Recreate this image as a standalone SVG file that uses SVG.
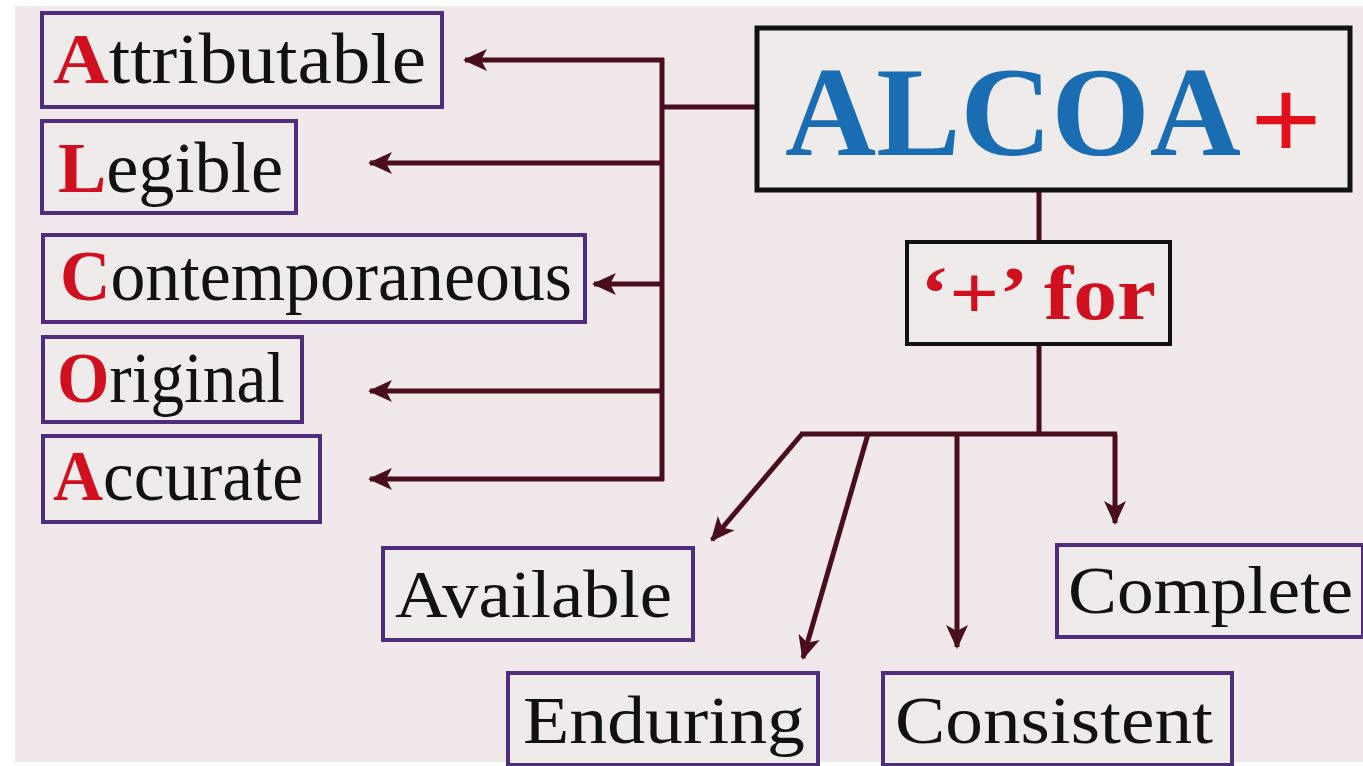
<svg xmlns="http://www.w3.org/2000/svg" width="1363" height="766" viewBox="0 0 1363 766">
<defs>
<style>
.box{fill:#efebea;stroke:#4e2d7c;stroke-width:4}
.lbl{font-family:"Liberation Serif",serif;font-size:72px;fill:#111}
.bl{font-family:"Liberation Serif",serif;font-size:68px;fill:#111}
.ini{font-weight:bold;fill:#d0101e}
.con{fill:none;stroke:#4a0d1c;stroke-width:5}
</style>
<marker id="ah" markerUnits="userSpaceOnUse" markerWidth="26" markerHeight="24" refX="22" refY="12" orient="auto">
<path d="M0,1 L24,12 L0,23 L6,12 Z" fill="#4a0d1c"/>
</marker>
</defs>
<rect x="0" y="0" width="1363" height="766" fill="#ffffff"/>
<rect x="15" y="6" width="1348" height="756" fill="#f0e8ea"/>
<g id="connectors">
<path class="con" d="M757,107 L660,107"/>
<path class="con" d="M662,58 L662,481"/>
<path class="con" d="M664,60 L465,60" marker-end="url(#ah)"/>
<path class="con" d="M664,163 L370,163" marker-end="url(#ah)"/>
<path class="con" d="M664,284 L594,284" marker-end="url(#ah)"/>
<path class="con" d="M664,391 L370,391" marker-end="url(#ah)"/>
<path class="con" d="M664,479 L370,479" marker-end="url(#ah)"/>
<path class="con" d="M1039,190 L1039,242"/>
<path class="con" d="M1039,345 L1039,434"/>
<path class="con" d="M800,434 L1117,434"/>
<path class="con" d="M802,434 L712,540" marker-end="url(#ah)"/>
<path class="con" d="M868,434 L803,658" marker-end="url(#ah)"/>
<path class="con" d="M957,434 L957,647" marker-end="url(#ah)"/>
<path class="con" d="M1115,434 L1115,523" marker-end="url(#ah)"/>
</g>
<g id="alcoa">
<rect x="757" y="28" width="593" height="162" fill="#eeebea" stroke="#111" stroke-width="5"/>
<text x="785" y="155" font-family="'Liberation Serif',serif" font-size="128" font-weight="bold" fill="#1a6db2" textLength="456" lengthAdjust="spacingAndGlyphs">ALCOA</text>
<text x="1250" y="160" font-family="'Liberation Serif',serif" font-size="118" font-weight="bold" fill="#e0101c" textLength="72" lengthAdjust="spacingAndGlyphs">+</text>
</g>
<g id="plusfor">
<rect x="907" y="242" width="263" height="102" fill="#eeebea" stroke="#111" stroke-width="4"/>
<text x="920" y="319" font-family="'Liberation Serif',serif" font-size="76" font-weight="bold" fill="#d0101e" textLength="236" lengthAdjust="spacingAndGlyphs">‘+’ for</text>
</g>
<g id="attributable">
<rect class="box" x="42" y="13" width="400" height="94"/>
<text class="lbl" x="53" y="83" textLength="373" lengthAdjust="spacingAndGlyphs"><tspan class="ini">A</tspan>ttributable</text>
</g>
<g id="legible">
<rect class="box" x="42" y="121" width="254" height="92"/>
<text class="lbl" x="58" y="192" textLength="225" lengthAdjust="spacingAndGlyphs"><tspan class="ini">L</tspan>egible</text>
</g>
<g id="contemporaneous">
<rect class="box" x="43" y="235" width="542" height="87"/>
<text class="lbl" x="60" y="300" textLength="512" lengthAdjust="spacingAndGlyphs"><tspan class="ini">C</tspan>ontemporaneous</text>
</g>
<g id="original">
<rect class="box" x="43" y="337" width="259" height="85"/>
<text class="lbl" x="57" y="402" textLength="228" lengthAdjust="spacingAndGlyphs"><tspan class="ini">O</tspan>riginal</text>
</g>
<g id="accurate">
<rect class="box" x="43" y="436" width="277" height="86"/>
<text class="lbl" x="53" y="500" textLength="250" lengthAdjust="spacingAndGlyphs"><tspan class="ini">A</tspan>ccurate</text>
</g>
<g id="available">
<rect class="box" x="383" y="548" width="310" height="92"/>
<text class="bl" x="395" y="617" textLength="277" lengthAdjust="spacingAndGlyphs">Available</text>
</g>
<g id="enduring">
<rect class="box" x="508" y="673" width="310" height="92"/>
<text class="bl" x="523" y="743" textLength="282" lengthAdjust="spacingAndGlyphs">Enduring</text>
</g>
<g id="consistent">
<rect class="box" x="883" y="673" width="349" height="92"/>
<text class="bl" x="895" y="743" textLength="318" lengthAdjust="spacingAndGlyphs">Consistent</text>
</g>
<g id="complete">
<rect class="box" x="1057" y="545" width="306" height="92"/>
<text class="bl" x="1068" y="613" textLength="285" lengthAdjust="spacingAndGlyphs">Complete</text>
</g>
</svg>
